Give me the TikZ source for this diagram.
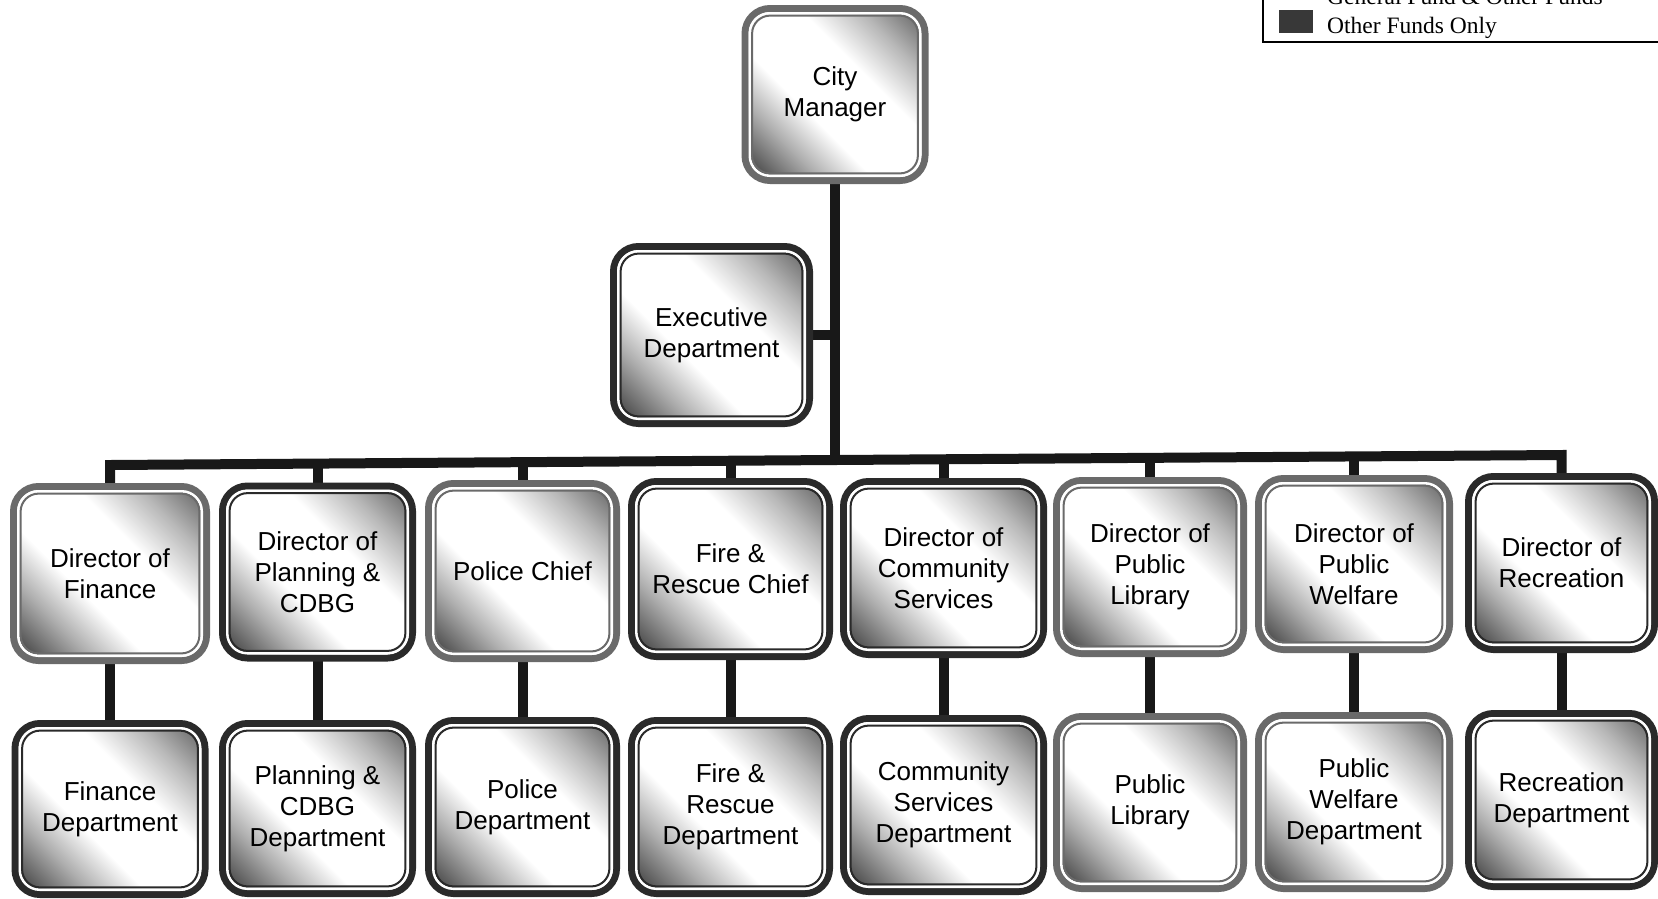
\documentclass[tikz,border=0pt]{standalone}
\usepackage{fontspec}
\setmainfont{Liberation Sans}
\newfontfamily\legendfont{Liberation Serif}
\usetikzlibrary{backgrounds,calc}
\definecolor{ringgray}{HTML}{6A6A6A}
\definecolor{ringdark}{HTML}{2A2A2A}
\definecolor{linecol}{HTML}{181818}
\pgfdeclareverticalshading{boxsh}{100bp}{color(0bp)=(black!85); color(16bp)=(black!78); color(30bp)=(black!32); color(41bp)=(white); color(60bp)=(white); color(72bp)=(black!28); color(84bp)=(black!62); color(100bp)=(black!62)}
\tikzset{
  obox/.style={shade, shading=boxsh, shading angle=-45, rounded corners=25pt, line width=7pt,
    outer sep=0pt, inner sep=0pt, align=center, font=\fontsize{26}{31}\selectfont, text=black},
  conn/.style={draw=linecol, line width=10pt, line join=miter},
  legtext/.style={anchor=base west, inner sep=0pt, font=\legendfont\fontsize{23.5}{28}\selectfont}
}
\newcommand\orgbox[7]{%
  \pgfmathsetmacro\obw{#4-7}\pgfmathsetmacro\obh{#5-7}%
  \node[obox, draw=#7, minimum width=\obw pt, minimum height=\obh pt] (#1) at (#2,#3) {#6};
  \draw[white, line width=2.6pt, rounded corners=20pt] ([shift={(4.8pt,4.8pt)}]#1.south west) rectangle ([shift={(-4.8pt,-4.8pt)}]#1.north east);
  \draw[#7, line width=2pt, rounded corners=18pt] ([shift={(7.1pt,7.1pt)}]#1.south west) rectangle ([shift={(-7.1pt,-7.1pt)}]#1.north east);
}
\begin{document}
\begin{tikzpicture}[x=1pt, y=-1pt]
\useasboundingbox (0,0) rectangle (1658,898);

% top
\orgbox{cm}{835}{94.5}{187}{179}{City\\Manager}{ringgray}
\orgbox{ex}{711.5}{335}{203}{184}{Executive\\Department}{ringdark}

% directors
\orgbox{d1}{110}{573.5}{200}{181}{Director of\\Finance}{ringgray}
\orgbox{d2}{317.5}{572}{197}{179}{Director of\\Planning \&\\CDBG}{ringdark}
\orgbox{d3}{522.5}{571}{195}{182}{Police Chief}{ringgray}
\orgbox{d4}{730.5}{569}{205}{182}{Fire \&\\Rescue Chief}{ringdark}
\orgbox{d5}{943.5}{568}{207}{180}{Director of\\Community\\Services}{ringdark}
\orgbox{d6}{1150}{567}{194}{180}{Director of\\Public\\Library}{ringgray}
\orgbox{d7}{1354}{564}{198}{178}{Director of\\Public\\Welfare}{ringgray}
\orgbox{d8}{1561.5}{563}{193}{180}{Director of\\Recreation}{ringdark}

% departments
\orgbox{p1}{110}{809}{197}{178}{Finance\\Department}{ringdark}
\orgbox{p2}{317.5}{808.5}{197}{177}{Planning \&\\CDBG\\Department}{ringdark}
\orgbox{p3}{522.5}{807}{195}{180}{Police\\Department}{ringdark}
\orgbox{p4}{730.5}{807}{205}{180}{Fire \&\\Rescue\\Department}{ringdark}
\orgbox{p5}{943.5}{805}{207}{180}{Community\\Services\\Department}{ringdark}
\orgbox{p6}{1150}{802.5}{194}{179}{Public\\Library}{ringgray}
\orgbox{p7}{1354}{802}{198}{180}{Public\\Welfare\\Department}{ringgray}
\orgbox{p8}{1561.5}{800}{193}{180}{Recreation\\Department}{ringdark}

% junctions on the bar
\coordinate (j0) at (835,460);
\coordinate (j1) at (110,465);
\coordinate (j2) at (317.5,463.6);
\coordinate (j3) at (522.5,462.2);
\coordinate (j4) at (730.5,460.7);
\coordinate (j5) at (943.5,459.3);
\coordinate (j6) at (1150,457.8);
\coordinate (j7) at (1354,456.4);
\coordinate (j8) at (1561.5,455);

% legend
\fill[white] (1263,-60) rectangle (1700,42);
\draw[line width=1.8pt] (1263,-60) -- (1263,42) -- (1700,42);
\fill[black!78] (1279,10) rectangle (1313,33);
\node[legtext] (lg1) at (1327,4) {General Fund \& Other Funds};
\node[legtext] (lg2) at (1327,33) {Other Funds Only};

\begin{scope}[on background layer]
  \fill[white] (0,0) rectangle (1658,898);
  \draw[conn] (cm.south) -- (j0);
  \draw[conn] (ex.east) -- (ex.east -| cm.south);
  \draw[conn] (d1.north) -- (j1) -- (j8) -- (d8.north);
  \foreach \i in {2,...,7} { \draw[conn] (j\i) -- (d\i.north); }
  \foreach \i in {1,...,8} { \draw[conn] (d\i.south) -- (p\i.north); }
\end{scope}
\end{tikzpicture}
\end{document}
